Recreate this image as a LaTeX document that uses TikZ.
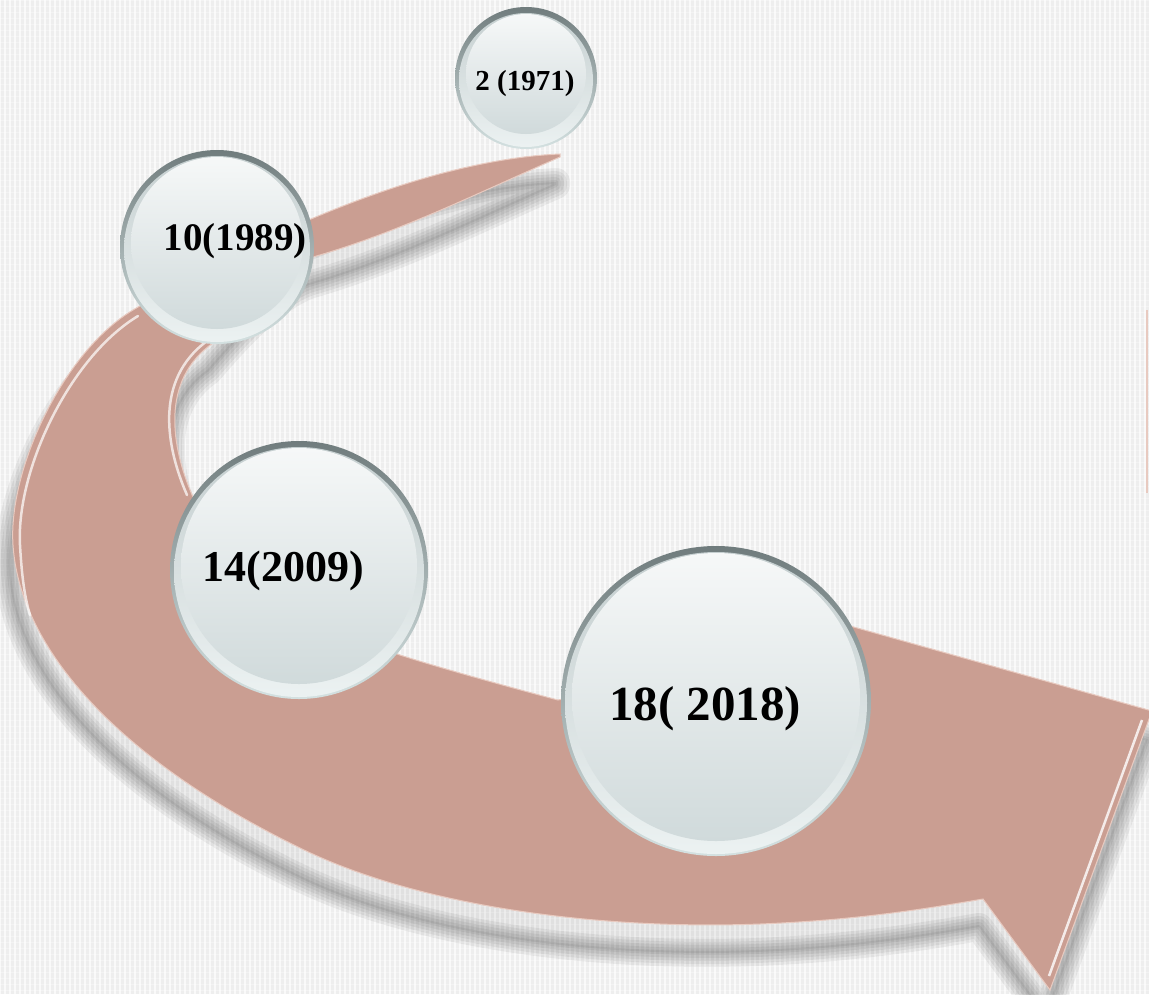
\documentclass[tikz,border=0pt]{standalone}
\usepackage{fontspec}
\setmainfont{Liberation Serif}

\definecolor{hgrund}{RGB}{238,238,238}
\definecolor{pfeil}{RGB}{202,158,146}
\definecolor{pfeilrand}{RGB}{232,202,192}
\definecolor{ringoben}{RGB}{112,124,125}
\definecolor{ringunten}{RGB}{212,225,225}
\definecolor{saumoben}{RGB}{196,206,207}
\definecolor{saumunten}{RGB}{236,242,242}
\definecolor{kernoben}{RGB}{246,248,248}
\definecolor{kernunten}{RGB}{208,218,219}

% Umriss des Pfeils
\def\pfeilweg{(560,154) .. controls (420,160) and (250,240) .. (133,310)
  .. controls (63,352) and (8,470) .. (13,545)
  .. controls (20,650) and (120,760) .. (300,848)
  .. controls (420,907) and (600,930) .. (760,924)
  .. controls (860,920) and (930,908) .. (983,899)
  -- (1050,990) -- (1152,711) -- (765,602) -- (800,650) -- (558,700)
  .. controls (520,690) and (440,668) .. (400,655)
  .. controls (300,620) and (220,560) .. (193,497)
  .. controls (171,447) and (160,380) .. (213,343)
  .. controls (250,300) and (280,270) .. (313,257)
  .. controls (400,232) and (480,192) .. (560,157) -- cycle}

\begin{document}
\begin{tikzpicture}[x=1pt,y=-1pt,
  bubble/.style={circle, inner sep=0pt, minimum size={2*#1pt},
    top color=ringoben, bottom color=ringunten,
    path picture={
      \shade[top color=saumoben, bottom color=saumunten]
        ([yshift=-2pt]path picture bounding box.center) circle ({#1pt-4pt});
      \shade[top color=kernoben, bottom color=kernunten]
        ([yshift=4pt]path picture bounding box.center) circle ({#1pt-11pt});
    }},
  jahr/.style={font=\bfseries, inner sep=0pt}]
	\useasboundingbox (0,0) rectangle (1149,994);
	\clip (0,0) rectangle (1149,994);
	% Hintergrund
	\fill[hgrund] (0,0) rectangle (1149,994);
	\foreach \i in {0,5,...,1145}
		\draw[white, line width=1.4pt, opacity=0.7] (\i,0) -- (\i,994);
	\foreach \j in {0,6,...,990}
		\draw[white, line width=0.6pt, opacity=0.35] (0,\j) -- (1149,\j);
	% Schatten
	\begin{scope}[xshift=-4pt, yshift=-28pt]
		\fill[black, opacity=0.055] \pfeilweg;
		\foreach \w in {4,10,16,22,28}
			\draw[black, opacity=0.055, line width=\w pt, line join=round] \pfeilweg;
	\end{scope}
	% Pfeil
	\fill[pfeil] \pfeilweg;
	\draw[pfeilrand, line width=1pt] \pfeilweg;
	% Glanzkanten
	\draw[white, opacity=0.7, line width=2.5pt, line cap=round] (138,316) .. controls (70,357) and (16,470) .. (20,545) .. controls (22,580) and (25,598) .. (30,615);
	\draw[white, opacity=0.7, line width=2.5pt, line cap=round] (187,495) .. controls (166,447) and (154,380) .. (207,341);
	\draw[white, opacity=0.8, line width=2.5pt] (1142,720) -- (1049,976);
	\draw[pfeilrand, line width=2pt] (1147,310) -- (1147,493);
	% Kreise
	\foreach \nm/\x/\y/\rad in {b2/526/78/71, b10/217/247/97, b14/299/570/129, b18/716/701/155}
		\node[bubble=\rad] (\nm) at (\x,\y) {};
	% Jahreszahlen
	\foreach \nm/\x/\y/\gr/\txt in {t2/525/84/29/{2 (1971)}, t10/235/241/39/{10(1989)}, t14/283/571/44/{14(2009)}, t18/705/709/49/{18( 2018)}}
		\node[jahr] (\nm) at (\x,\y) {\fontsize{\gr}{\gr}\selectfont \txt};
\end{tikzpicture}
\end{document}
